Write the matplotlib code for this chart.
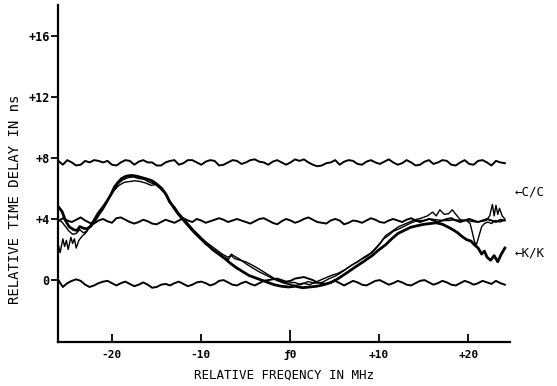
import matplotlib
matplotlib.use('Agg')
import matplotlib.pyplot as plt
import numpy as np

# flat reference traces, sampled evenly across the band
top_trace = [7.8, 7.55, 7.85, 7.7, 7.5, 7.55, 7.8, 7.7, 7.85, 7.8, 7.7, 7.8, 7.55, 7.5, 7.7, 7.85, 7.8, 7.55, 7.75, 7.85,
             7.7, 7.7, 7.5, 7.5, 7.7, 7.8, 7.85, 7.55, 7.65, 7.85, 7.85, 7.7, 7.55, 7.75, 7.85, 7.8, 7.5, 7.55, 7.7, 7.85,
             7.8, 7.6, 7.7, 7.85, 7.9, 7.75, 7.7, 7.55, 7.75, 7.85, 7.7, 7.55, 7.7, 7.9, 7.8, 7.9, 7.7, 7.55, 7.45, 7.5,
             7.65, 7.7, 7.85, 7.55, 7.75, 7.85, 7.8, 7.6, 7.55, 7.75, 7.85, 7.7, 7.6, 7.75, 7.9, 7.7, 7.55, 7.65, 7.85, 7.7,
             7.5, 7.55, 7.75, 7.85, 7.6, 7.7, 7.85, 7.8, 7.55, 7.5, 7.7, 7.85, 7.6, 7.55, 7.8, 7.85, 7.7, 7.5, 7.8, 7.7, 7.65]
mid_trace = [3.85, 4.05, 3.9, 3.8, 3.95, 4.1, 3.9, 3.75, 3.7, 3.9, 4.0, 3.85, 3.75, 4.05, 4.1, 3.95, 3.8, 3.7, 3.8, 3.95,
             3.85, 3.7, 3.65, 3.8, 3.95, 3.85, 3.75, 3.9, 4.05, 3.9, 3.8, 4.0, 3.9, 3.75, 3.85, 3.95, 4.05, 3.95, 3.8, 3.9,
             4.0, 3.9, 3.8, 3.7, 3.85, 4.0, 4.05, 3.9, 3.75, 3.65, 3.85, 4.0, 3.9, 3.75, 3.85, 4.0, 4.1, 3.95, 3.8, 3.75,
             3.7, 3.9, 4.0, 3.9, 3.65, 3.75, 3.9, 3.85, 3.75, 3.9, 4.05, 3.95, 3.8, 3.75, 3.9, 4.0, 3.9, 3.8, 3.95, 4.05,
             3.9, 3.8, 3.9, 4.0, 3.9, 3.8, 3.9, 4.0, 4.05, 3.9, 3.8, 3.9, 4.0, 3.9, 3.8, 3.9, 4.0, 3.9, 3.8, 3.95, 3.9]
bottom_trace = [0.0, -0.45, -0.2, -0.05, 0.05, -0.05, -0.3, -0.45, -0.35, -0.2, -0.1, -0.05, -0.2, -0.35, -0.2, -0.1, -0.25,
                -0.4, -0.3, -0.15, -0.3, -0.5, -0.45, -0.3, -0.25, -0.35, -0.2, -0.1, -0.25, -0.4, -0.3, -0.15, -0.1,
                -0.2, -0.35, -0.25, -0.05, 0.0, -0.15, -0.3, -0.35, -0.2, -0.1, -0.25, -0.35, -0.2, -0.05, 0.0, 0.05,
                0.1, 0.0, -0.1, -0.05, 0.1, 0.15, 0.2, 0.1, 0.0, -0.15, -0.2, -0.25, -0.15, -0.05, -0.2, -0.35, -0.2,
                -0.05, -0.15, -0.3, -0.35, -0.2, -0.05, 0.0, -0.15, -0.3, -0.2, -0.05, -0.15, -0.3, -0.35, -0.2, -0.05,
                0.0, -0.15, -0.3, -0.2, -0.05, -0.15, -0.3, -0.35, -0.2, -0.05, -0.15, -0.3, -0.2, -0.05, -0.15, -0.25,
                -0.05, -0.2, -0.3]

# K/K delay curves (thick one plus two thin ones)
kk_thick_f = [-26.0, -25.6, -25.2, -24.8, -24.3, -23.9, -23.6, -23.2, -22.8, -22.4, -21.9, -21.5, -21.1, -20.6, -20.1,
              -19.7, -19.3, -18.9, -18.4, -17.8, -17.2, -16.6, -16.0, -15.5, -15.0, -14.4, -13.9, -13.5, -13.0, -12.6,
              -12.0, -11.4, -10.8, -10.1, -9.4, -8.7, -8.0, -7.3, -6.7, -6.0, -5.3, -4.6, -3.9, -3.2, -2.5, -1.8, -1.0,
              -0.2, 0.6, 1.4, 2.2, 3.0, 3.8, 4.6, 5.4, 6.3, 7.3, 8.2, 9.2, 10.0, 10.7, 11.4, 12.1, 12.8, 13.5, 14.2,
              15.0, 15.7, 16.4, 17.1, 17.8, 18.4, 18.8, 19.3, 19.8, 20.3, 20.7, 21.1, 21.5, 21.8, 22.1, 22.5, 22.9,
              23.3, 23.7, 24.1]
kk_thick_t = [4.8, 4.5, 3.9, 3.5, 3.3, 3.25, 3.5, 3.4, 3.35, 3.5, 3.9, 4.3, 4.6, 5.1, 5.6, 6.1, 6.4, 6.65, 6.8, 6.85,
              6.8, 6.7, 6.6, 6.5, 6.3, 6.0, 5.6, 5.1, 4.75, 4.4, 4.0, 3.6, 3.2, 2.8, 2.4, 2.0, 1.7, 1.4, 1.1, 0.8, 0.55,
              0.3, 0.15, 0.0, -0.15, -0.3, -0.4, -0.45, -0.4, -0.5, -0.45, -0.4, -0.3, -0.15, 0.1, 0.45, 0.85, 1.2,
              1.6, 2.0, 2.3, 2.7, 3.05, 3.25, 3.45, 3.55, 3.65, 3.7, 3.75, 3.65, 3.45, 3.25, 3.1, 2.85, 2.65, 2.55,
              2.3, 2.1, 1.7, 1.9, 1.5, 1.3, 1.6, 1.2, 1.7, 2.1]

kk_thin1_f = [-26.0, -25.8, -25.5, -25.3, -25.1, -24.9, -24.6, -24.4, -24.2, -24.0, -23.7, -23.3, -22.9, -22.5, -22.0,
              -21.6, -21.2, -20.8, -20.4, -20.0, -19.6, -19.3, -18.8, -18.2, -17.6, -17.0, -16.4, -15.8, -15.3, -14.8,
              -14.3, -13.8, -13.3, -12.8, -12.3, -11.7, -11.1, -10.4, -9.7, -9.0, -8.3, -7.6, -7.0, -6.6, -6.2, -5.6,
              -5.0, -4.3, -3.7, -3.0, -2.3, -1.6, -0.9, -0.2, 0.5, 1.2, 2.0, 2.8, 3.6, 4.4, 5.2, 6.0, 6.8, 7.6, 8.3,
              9.0, 9.6, 10.2, 10.7, 11.2, 11.7, 12.2, 12.8, 13.4, 14.0, 14.7, 15.4, 16.0, 16.4, 16.8, 17.3, 17.8, 18.2,
              18.6, 19.1, 19.7, 20.3, 20.9, 21.5, 22.0, 22.4, 22.7, 22.9, 23.1, 23.3, 23.5, 23.8, 24.1]
kk_thin1_t = [2.3, 1.8, 2.7, 2.2, 2.6, 2.0, 2.8, 2.4, 2.7, 2.1, 2.6, 2.9, 3.1, 3.5, 4.0, 4.4, 4.7, 5.0, 5.35, 5.7, 6.0,
              6.3, 6.55, 6.7, 6.75, 6.65, 6.6, 6.4, 6.3, 6.2, 5.95, 5.5, 5.0, 4.6, 4.2, 3.8, 3.4, 3.0, 2.6, 2.3, 2.0,
              1.7, 1.5, 1.6, 1.4, 1.3, 1.2, 1.0, 0.8, 0.55, 0.3, 0.05, -0.1, -0.2, -0.15, -0.3, -0.1, -0.2, -0.15, 0.1,
              0.3, 0.6, 0.95, 1.2, 1.5, 1.75, 2.1, 2.5, 2.9, 3.1, 3.3, 3.5, 3.65, 3.8, 3.95, 4.05, 4.2, 4.45, 4.2, 4.6,
              4.3, 4.35, 4.6, 4.3, 3.95, 3.9, 3.85, 3.8, 3.85, 3.9, 4.2, 4.95, 4.2, 4.9, 4.3, 4.7, 4.2, 4.0]

kk_thin2_f = [-26.0, -25.6, -25.2, -24.8, -24.4, -24.0, -23.6, -23.2, -22.8, -22.4, -22.0, -21.6, -21.2, -20.7, -20.2,
              -19.7, -19.2, -18.6, -18.0, -17.4, -16.8, -16.2, -15.6, -15.1, -14.6, -14.1, -13.6, -13.1, -12.6, -12.1,
              -11.5, -10.9, -10.2, -9.5, -8.8, -8.1, -7.4, -6.9, -6.6, -6.2, -5.6, -4.9, -4.2, -3.5, -2.8, -2.1, -1.4,
              -0.7, 0.0, 0.7, 1.4, 2.2, 3.0, 3.8, 4.6, 5.4, 6.2, 7.0, 7.8, 8.6, 9.3, 10.0, 10.5, 11.0, 11.6, 12.2,
              12.9, 13.6, 14.3, 15.0, 15.7, 16.4, 17.1, 17.8, 18.5, 19.2, 19.8, 20.2, 20.5, 20.7, 20.9, 21.2, 21.5,
              21.8, 22.2, 22.6, 23.0, 23.5, 24.0]
kk_thin2_t = [4.0, 3.8, 3.5, 3.2, 3.0, 3.05, 3.3, 3.1, 3.2, 3.6, 3.9, 4.1, 4.5, 5.0, 5.5, 5.9, 6.2, 6.4, 6.45, 6.5,
              6.45, 6.35, 6.2, 6.25, 6.0, 5.7, 5.2, 4.7, 4.3, 3.95, 3.55, 3.15, 2.75, 2.35, 2.05, 1.8, 1.5, 1.35, 1.7,
              1.55, 1.35, 1.05, 0.8, 0.55, 0.35, 0.15, -0.05, -0.2, -0.3, -0.35, -0.2, -0.3, -0.1, 0.1, 0.3, 0.45, 0.7,
              1.0, 1.3, 1.55, 1.85, 2.3, 2.7, 2.9, 3.2, 3.35, 3.55, 3.75, 3.9, 3.9, 4.0, 3.95, 3.9, 3.9, 3.95, 3.9,
              3.9, 3.7, 3.0, 2.5, 2.3, 2.9, 3.5, 3.7, 3.8, 3.7, 3.9, 3.8, 3.9]

x_ticks = [-20, -10, 0, 10, 20]
x_ticklabels = ['-20', '-10', 'ƒ0', '+10', '+20']
y_ticks = [0, 4, 8, 12, 16]
y_ticklabels = ['0', '+4', '+8', '+12', '+16']

mono = 'DejaVu Sans Mono'

fig = plt.figure(figsize=(5.57, 3.86), dpi=100)
ax = fig.add_axes([0.104, 0.114, 0.812, 0.873])

for trace in (top_trace, mid_trace, bottom_trace):
    ax.plot(np.linspace(-26.0, 24.1, len(trace)), trace, color='black', lw=1.4)

ax.plot(kk_thick_f, kk_thick_t, color='black', lw=2.0)
ax.plot(kk_thin1_f, kk_thin1_t, color='black', lw=1.0)
ax.plot(kk_thin2_f, kk_thin2_t, color='black', lw=1.0)

ax.set_xlim(-26.05, 24.7)
ax.set_ylim(-4.05, 18.0)
for s in ('top', 'right'):
    ax.spines[s].set_visible(False)
for s in ('left', 'bottom'):
    ax.spines[s].set_linewidth(1.6)

ax.set_xticks(x_ticks)
ax.set_xticklabels(x_ticklabels, family=mono, fontsize=8, fontweight='bold')
ax.set_yticks(y_ticks)
ax.set_yticklabels(y_ticklabels, family=mono, fontsize=8.5, fontweight='bold')
ax.tick_params(axis='x', direction='in', length=6, width=1.3, pad=6)
ax.tick_params(axis='y', direction='out', length=5, width=1.3, pad=1)
ax.xaxis.get_major_ticks()[2].tick1line.set_markersize(9)

ax.set_xlabel('RELATIVE FREQENCY IN MHz', family=mono, fontsize=9, labelpad=6)
ax.set_ylabel('RELATIVE TIME DELAY IN ns', family=mono, fontsize=10)
ax.yaxis.set_label_coords(-0.08, 0.424)

ax.text(25.2, 5.75, '←C/C', family=mono, fontsize=9, va='center', ha='left', clip_on=False)
ax.text(25.2, 1.75, '←K/K', family=mono, fontsize=9, va='center', ha='left', clip_on=False)

fig.savefig('out.png', dpi=100)
